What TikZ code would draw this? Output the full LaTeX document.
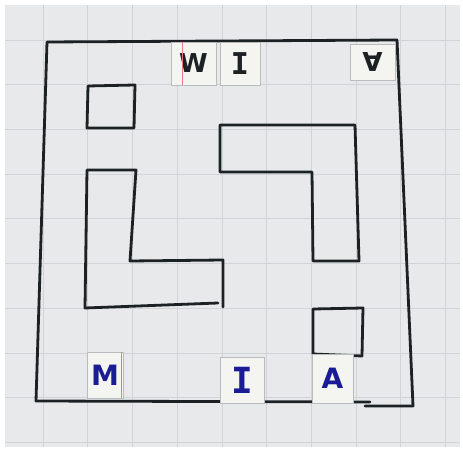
\documentclass[tikz,border=0pt]{standalone}
\usepackage{fontspec}
\newfontfamily\tilesans{DejaVu Sans}
\newfontfamily\tilemono{DejaVu Sans Mono}
\definecolor{MZPaper}{RGB}{231,233,235}
\definecolor{MZGrid}{RGB}{208,212,215}
\definecolor{MZInk}{RGB}{28,33,36}
\definecolor{MZBlue}{RGB}{26,28,150}
\definecolor{MZTile}{RGB}{244,244,241}
\definecolor{MZEdge}{RGB}{185,188,190}
\definecolor{MZMargin}{RGB}{236,122,132}

\begin{document}
\begin{tikzpicture}[
  x=1pt, y=-1pt,
  wall/.style={draw=MZInk, line width=2.8pt, line cap=round, line join=round},
  gridline/.style={draw=MZGrid, line width=0.6pt},
  tile/.style={draw=MZEdge, fill=MZTile, line width=0.5pt, inner sep=0pt},
  blackletter/.style={text=MZInk, font=\tilesans\bfseries\fontsize{26}{26}\selectfont},
  blueletter/.style={text=MZBlue, font=\tilesans\bfseries\fontsize{28}{28}\selectfont},
  margin/.style={draw=MZMargin, line width=0.7pt}
]
  \useasboundingbox[fill=white] (0,0) rectangle (463,449);
  \fill[MZPaper] (5,5) rectangle (460,447);

  % squared paper
  \foreach \i in {0,...,9} {
    \draw[gridline] ({43+44.7*\i},5) -- ({43+44.7*\i},447);
    \draw[gridline] (5,{40+44.7*\i}) -- (460,{40+44.7*\i});
  }

  % outer walls
  \draw[wall] (397,40) -- (47,42) -- (36,401) -- (370,402);
  \draw[wall] (365,406) -- (413,406) -- (397,40);

  % inner walls
  \draw[wall] (88,86) -- (135,85) -- (134,128) -- (87,128) -- cycle;
  \draw[wall] (223,307) -- (223,260) -- (130,261) -- (136,170) -- (87,170)
              -- (85,308) -- (218,303);
  \draw[wall] (220,125) -- (355,125) -- (359,261) -- (313,261) -- (312,172)
              -- (220,172) -- cycle;
  \draw[wall] (313,309) -- (363,308) -- (362,356) -- (313,354) -- cycle;

  % letter tiles
  \node[tile, blackletter, minimum width=45pt, minimum height=43pt] (wTop) at (193.5,63.5) {W};
  \node[tile, text=MZInk, font=\tilemono\bfseries\fontsize{30}{30}\selectfont,
        minimum width=40pt, minimum height=43pt] (iTop) at (240,63.5) {I};
  \node[tile, blackletter, rotate=180, minimum width=45pt, minimum height=36pt] (aTop) at (372.5,62) {A};
  \node[tile, blueletter, minimum width=36pt, minimum height=46pt] (mBot) at (105,375) {M};
  \node[tile, text=MZBlue, font=\tilemono\bfseries\fontsize{36}{36}\selectfont,
        minimum width=44pt, minimum height=46pt] (iBot) at (242,380) {I};
  \node[tile, blueletter, minimum width=41pt, minimum height=49pt] (aBot) at (332.5,378.5) {A};

  \draw[margin] ([xshift=12pt]wTop.north west) -- ([xshift=12pt]wTop.south west);
  \draw[margin] ([xshift=-2pt]mBot.north east) -- ([xshift=-2pt]mBot.south east);
\end{tikzpicture}
\end{document}
